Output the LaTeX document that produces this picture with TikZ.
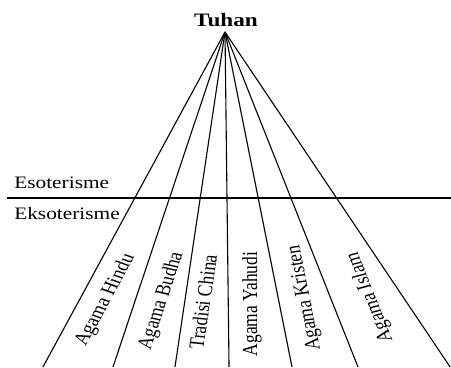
\documentclass[tikz,border=0pt]{standalone}
\usepackage{fontspec}
\setmainfont{Liberation Serif}
\tikzset{
  fanline/.style={line width=1.1pt, black},
  divline/.style={line width=1.4pt, black},
  lbl/.style={font=\fontsize{17.5}{20}\selectfont, inner sep=0pt},
  rlbl/.style={font=\fontsize{17.5}{20}\selectfont, inner sep=0pt, anchor=center},
  toplbl/.style={font=\fontsize{19}{21}\selectfont\bfseries, inner sep=0pt, anchor=base}
}
\begin{document}
\begin{tikzpicture}[x=1pt,y=1pt]
\begin{scope}[xscale=1.22, transform shape]
\useasboundingbox (0,0) rectangle (369.67,367);
% apex and feet
\coordinate (apex) at (184.4,335);
\coordinate (f1) at (35.2,0);
\coordinate (f2) at (92.6,0);
\coordinate (f3) at (143.4,0);
\coordinate (f4) at (187.7,0);
\coordinate (f5) at (239.3,0);
\coordinate (f6) at (293.4,0);
\coordinate (f7) at (368.9,0);
\coordinate (dl) at (5.7,169);
\coordinate (dr) at (369.67,169);
% lines
\foreach \f in {f1,f2,f3,f4,f5,f6,f7}
  \draw[fanline] (apex) -- (\f);
\draw[divline] (dl) -- (dr);
% labels
\node[toplbl] (tuhan) at (185.2,340) {Tuhan};
\node[lbl, anchor=base west] (eso) at (11.5,179) {Esoterisme};
\node[lbl, anchor=base west] (ekso) at (11.5,148) {Eksoterisme};
\node[rlbl, rotate=66] (hindu) at (86.5,67) {Agama Hindu};
\node[rlbl, rotate=74.7] (budha) at (132.5,66) {Agama Budha};
\node[rlbl, rotate=83] (china) at (166.4,65) {Tradisi China};
\node[rlbl, rotate=90] (yahudi) at (206.6,63) {Agama Yahudi};
\node[rlbl, rotate=99.3] (kristen) at (250,69) {Agama Kristen};
\node[rlbl, rotate=108] (islam) at (303.3,70) {Agama Islam};
\end{scope}
\end{tikzpicture}
\end{document}
